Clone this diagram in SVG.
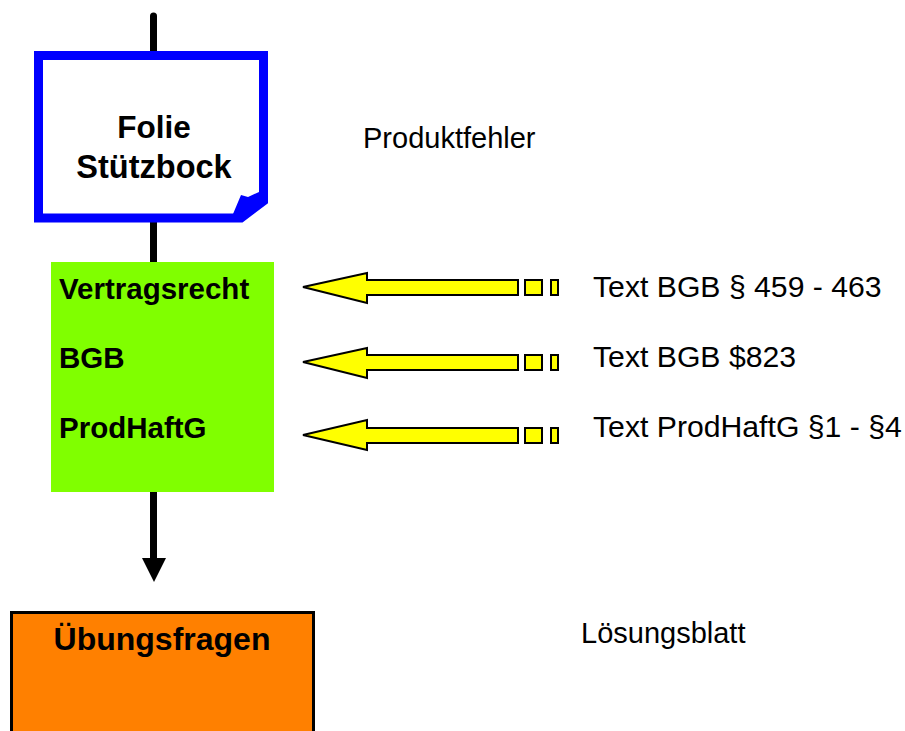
<svg xmlns="http://www.w3.org/2000/svg" width="905" height="731" viewBox="0 0 905 731">
<style>
.b{font-family:"Liberation Sans",Arial,sans-serif;font-weight:bold;fill:#000}
.n{font-family:"Liberation Sans",Arial,sans-serif;fill:#000;font-size:29px}
.r{font-size:30.2px}
.ya{fill:#FFFF00;stroke:#000;stroke-width:2;stroke-linejoin:miter}
</style>
<rect width="905" height="731" fill="#fff"/>
<g id="connectors">
<line x1="153.5" y1="16" x2="153.5" y2="60" stroke="#000" stroke-width="7" stroke-linecap="round"/>
<line x1="153.5" y1="215" x2="153.5" y2="263" stroke="#000" stroke-width="7"/>
<line x1="153.5" y1="491" x2="153.5" y2="560" stroke="#000" stroke-width="7"/>
<polygon points="142,558 166,558 154,582" fill="#000"/>
<g id="arrow1"><polygon class="ya" points="303,287 367,273 367,280 518,280 518,295 367,295 367,303"/><rect class="ya" x="525" y="280" width="17" height="15"/><rect class="ya" x="551" y="280" width="7" height="15"/></g>
<g id="arrow2"><polygon class="ya" points="303,362 367,348 367,355 518,355 518,370 367,370 367,378"/><rect class="ya" x="525" y="355" width="17" height="15"/><rect class="ya" x="551" y="355" width="7" height="15"/></g>
<g id="arrow3"><polygon class="ya" points="303,435 367,420 367,428 518,428 518,443 367,443 367,450"/><rect class="ya" x="525" y="428" width="17" height="15"/><rect class="ya" x="551" y="428" width="7" height="15"/></g>
</g>
<g id="folie">
<path d="M38.5,55.5 H263.5 V201 L241,218 H38.5 Z" fill="#fff" stroke="#0000FF" stroke-width="9" stroke-linejoin="miter"/>
<polygon points="233,214 241,195 248,197 259,192 259,204 243,218" fill="#0000FF"/>
<text class="b" x="154" y="138" font-size="31.5" text-anchor="middle">Folie</text>
<text class="b" x="154" y="178" font-size="32.5" text-anchor="middle">Stützbock</text>
</g>
<g id="produktfehler"><text class="n" x="363" y="148" font-size="29.3">Produktfehler</text></g>
<g id="gesetze">
<rect x="51" y="262" width="223" height="230" fill="#80FF00"/>
<text class="b" x="59" y="299" font-size="29.5">Vertragsrecht</text>
<text class="b" x="59" y="368" font-size="29.5">BGB</text>
<text class="b" x="59" y="438" font-size="29.5">ProdHaftG</text>
</g>
<g id="texte">
<text class="n r" x="593" y="297">Text BGB § 459 - 463</text>
<text class="n r" x="593" y="367">Text BGB $823</text>
<text class="n r" x="593" y="437">Text ProdHaftG §1 - §4</text>
</g>
<g id="uebungsfragen">
<rect x="11.5" y="612.5" width="302" height="130" fill="#FF8000" stroke="#000" stroke-width="3"/>
<text class="b" x="162" y="650" font-size="32" text-anchor="middle">Übungsfragen</text>
</g>
<g id="loesungsblatt"><text class="n" x="581" y="643">Lösungsblatt</text></g>
</svg>
